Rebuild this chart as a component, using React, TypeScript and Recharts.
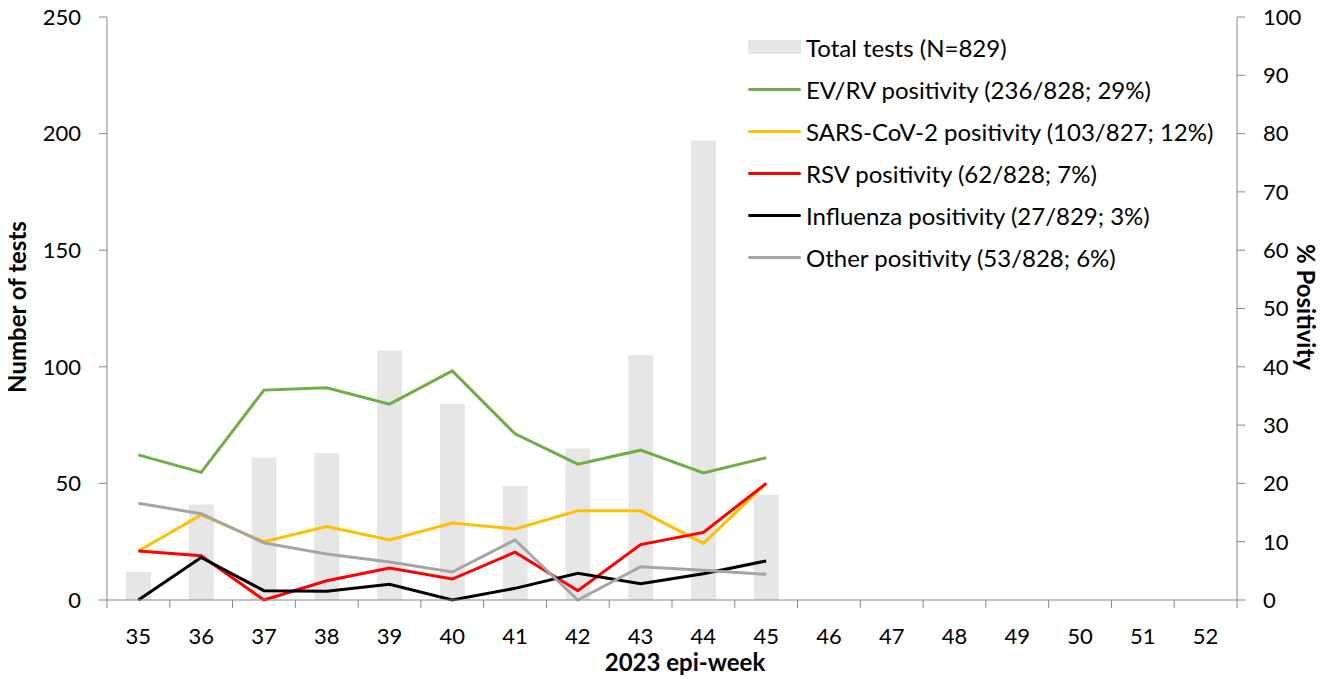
import React from "react";
import { ComposedChart, Bar, Line, XAxis, YAxis } from "recharts";

const weeks = ["35","36","37","38","39","40","41","42","43","44","45","46","47","48","49","50","51","52"];
const totalTests = [12, 41, 61, 63, 107, 84, 49, 65, 105, 197, 45];
const evrv = [24.9, 21.9, 36.0, 36.4, 33.6, 39.3, 28.5, 23.3, 25.7, 21.8, 24.4];
const sars = [8.4, 14.6, 10.0, 12.6, 10.3, 13.2, 12.2, 15.3, 15.3, 9.7, 20.0];
const rsv = [8.4, 7.6, 0.0, 3.3, 5.5, 3.6, 8.2, 1.6, 9.5, 11.6, 20.0];
const flu = [0.0, 7.3, 1.6, 1.5, 2.7, 0.0, 2.0, 4.6, 2.8, 4.5, 6.7];
const other = [16.6, 14.8, 9.8, 7.9, 6.5, 4.8, 10.3, 0.0, 5.7, 5.1, 4.4];

const leftTicks = [0, 50, 100, 150, 200, 250];
const rightTicks = [0, 10, 20, 30, 40, 50, 60, 70, 80, 90, 100];

const legendItems = [
  { label: "Total tests (N=829)", color: "#e6e6e6", kind: "bar" },
  { label: "EV/RV positivity (236/828; 29%)", color: "#70ad47", kind: "line" },
  { label: "SARS-CoV-2 positivity (103/827; 12%)", color: "#ffc000", kind: "line" },
  { label: "RSV positivity (62/828; 7%)", color: "#ff0000", kind: "line" },
  { label: "Influenza positivity (27/829; 3%)", color: "#000000", kind: "line" },
  { label: "Other positivity (53/828; 6%)", color: "#a5a5a5", kind: "line" },
];

const data = weeks.map((w, i) => ({
  week: w,
  total: i < totalTests.length ? totalTests[i] : null,
  evrv: i < evrv.length ? evrv[i] : null,
  sars: i < sars.length ? sars[i] : null,
  rsv: i < rsv.length ? rsv[i] : null,
  flu: i < flu.length ? flu[i] : null,
  other: i < other.length ? other[i] : null,
}));

const FONT = "Lato, 'Open Sans', sans-serif";
const AXIS = "#898989";

const XTick = (props: any) => {
  const { x, y, payload, index } = props;
  const half = payload && payload.offset ? payload.offset : 1130 / 18 / 2;
  const last = index === weeks.length - 1;
  return (
    <g>
      <line x1={x - half} y1={y} x2={x - half} y2={y + 8} stroke={AXIS} strokeWidth={1} />
      {last && <line x1={x + half} y1={y} x2={x + half} y2={y + 8} stroke={AXIS} strokeWidth={1} />}
      <text x={x} y={y + 35} textAnchor="middle" dominantBaseline="central" fontFamily={FONT} fontSize={22} fill="#000">
        {payload.value}
      </text>
    </g>
  );
};

const titleStyle: React.CSSProperties = {
  position: "absolute",
  fontWeight: 700,
  fontSize: 24,
  whiteSpace: "nowrap",
  color: "#000",
  lineHeight: 1,
};

export default function App() {
  return (
    <div style={{ position: "relative", width: 1315, height: 679, marginTop: -8, fontFamily: FONT }}>
      <ComposedChart width={1315} height={679} data={data} margin={{ top: 17, right: 0, bottom: 0, left: 0 }}>
        <XAxis
          dataKey="week"
          height={79}
          tick={<XTick />}
          tickLine={false}
          tickSize={0}
          tickMargin={0}
          axisLine={{ stroke: AXIS }}
          interval={0}
        />
        <YAxis
          yAxisId="left"
          width={99}
          domain={[0, 250]}
          ticks={leftTicks}
          tickSize={8}
          tickMargin={18}
          axisLine={{ stroke: AXIS }}
          tickLine={{ stroke: AXIS }}
          tick={{ fontFamily: FONT, fontSize: 22, fill: "#000" }}
          interval={0}
        />
        <YAxis
          yAxisId="right"
          orientation="right"
          width={86}
          domain={[0, 100]}
          ticks={rightTicks}
          tickSize={8}
          tickMargin={18}
          axisLine={{ stroke: AXIS }}
          tickLine={{ stroke: AXIS }}
          tick={{ fontFamily: FONT, fontSize: 22, fill: "#000", textAnchor: "start" }}
          interval={0}
        />
        <Bar yAxisId="left" dataKey="total" fill="#e6e6e6" barSize={25} isAnimationActive={false} />
        <Line yAxisId="right" dataKey="evrv" stroke="#70ad47" strokeWidth={3} dot={false} type="linear" isAnimationActive={false} />
        <Line yAxisId="right" dataKey="sars" stroke="#ffc000" strokeWidth={3} dot={false} type="linear" isAnimationActive={false} />
        <Line yAxisId="right" dataKey="rsv" stroke="#ff0000" strokeWidth={3} dot={false} type="linear" isAnimationActive={false} />
        <Line yAxisId="right" dataKey="flu" stroke="#000000" strokeWidth={3} dot={false} type="linear" isAnimationActive={false} />
        <Line yAxisId="right" dataKey="other" stroke="#a5a5a5" strokeWidth={3} dot={false} type="linear" isAnimationActive={false} />
      </ComposedChart>
      <div style={{ position: "absolute", left: 740, top: 26, fontFamily: FONT, fontSize: 24, color: "#000" }}>
        {legendItems.map((it) => (
          <div key={it.label} style={{ display: "flex", alignItems: "center", height: 42, whiteSpace: "nowrap" }}>
            <div style={{ width: 53, height: it.kind === "bar" ? 14 : 3, background: it.color, marginRight: 5, borderRadius: it.kind === "bar" ? 0 : 2 }} />
            <span>{it.label}</span>
          </div>
        ))}
      </div>
      <div style={{ ...titleStyle, left: 8.5, top: 307, transform: "translate(-50%, -50%) rotate(-90deg)" }}>
        Number of tests
      </div>
      <div style={{ ...titleStyle, left: 1298, top: 307, transform: "translate(-50%, -50%) rotate(90deg)" }}>
        % Positivity
      </div>
      <div style={{ ...titleStyle, left: 677, top: 662, transform: "translate(-50%, -50%)" }}>
        2023 epi-week
      </div>
    </div>
  );
}
